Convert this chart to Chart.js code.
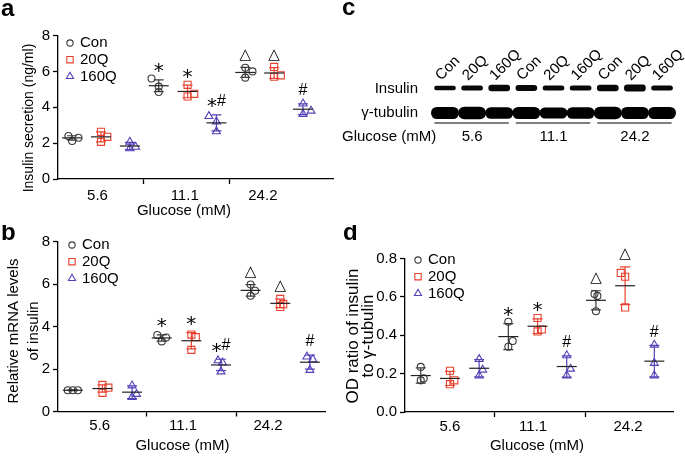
<!DOCTYPE html>
<html>
<head>
<meta charset="utf-8">
<script src="https://cdn.jsdelivr.net/npm/chart.js@4.4.1/dist/chart.umd.min.js"></script>
<style>
  html, body { margin: 0; padding: 0; background: #fff; }
  body { width: 685px; height: 456px; position: relative; overflow: hidden; }
  .panel { position: absolute; }
</style>
</head>
<body>
<div class="panel" style="left:0;top:0;width:340px;height:225px"><canvas id="chartA"></canvas></div>
<div class="panel" style="left:340px;top:0;width:345px;height:160px"><canvas id="chartC"></canvas></div>
<div class="panel" style="left:0;top:225px;width:340px;height:231px"><canvas id="chartB"></canvas></div>
<div class="panel" style="left:340px;top:225px;width:345px;height:231px"><canvas id="chartD"></canvas></div>
<script>
const glucose = ['5.6', '11.1', '24.2'];
const groupNames = ['Con', '20Q', '160Q'];

// a: insulin secretion (ng/ml), 3 replicates per glucose level
const secCon = [[2.4, 2.12, 2.3], [5.6, 5.15, 4.85], [6.2, 6.0, 5.65]];
const sec20Q = [[2.63, 2.07, 2.35], [5.25, 4.6, 4.75], [6.25, 5.7, 5.78]];
const sec160Q = [[2.07, 1.7, 1.79], [3.5, 3.2, 2.65], [4.2, 3.8, 3.62]];
const secMean = [[2.29, 5.2, 5.94], [2.35, 4.88, 5.91], [1.84, 3.13, 3.89]];
const secSd = [[0.12, 0.33, 0.28], [0.28, 0.35, 0.3], [0.2, 0.45, 0.3]];
const secJit = [
  [[-0.13, 0, 0.22], [-0.25, 0, 0], [0, 0.25, 0]],
  [[0, 0, 0.22], [0, 0, 0.23], [0, 0, 0.23]],
  [[0, 0, 0.2], [-0.26, 0, 0], [0, 0.28, 0]]
];
const secMarks = [['', '*', '△'], ['', '*', '△'], ['', '*#', '#']];

// b: relative mRNA levels of insulin
const mrnaCon = [[1.0, 1.0, 1.0], [3.6, 3.3, 3.48], [5.98, 5.68, 5.45]];
const mrna20Q = [[1.25, 0.88, 1.12], [3.62, 2.9, 3.5], [5.3, 5.05, 4.92]];
const mrna160Q = [[1.22, 0.68, 0.82], [2.4, 2.3, 1.88], [2.58, 2.45, 1.95]];
const mrnaMean = [[1.0, 3.46, 5.7], [1.08, 3.33, 5.09], [0.91, 2.19, 2.32]];
const mrnaSd = [[0.02, 0.15, 0.27], [0.17, 0.38, 0.2], [0.3, 0.27, 0.33]];
const mrnaJit = [
  [[-0.17, 0, 0.17], [-0.15, 0, 0.15], [0, 0.15, 0]],
  [[0, 0, 0.2], [0, 0, 0.15], [0, 0.1, 0]],
  [[0, 0, 0.15], [-0.1, 0.05, 0], [-0.1, 0.1, 0]]
];
const mrnaMarks = [['', '*', '△'], ['', '*', '△'], ['', '*#', '#']];

// d: OD ratio of insulin to gamma-tubulin
const odCon = [[0.235, 0.165, 0.175], [0.47, 0.37, 0.34], [0.615, 0.605, 0.525]];
const od20Q = [[0.215, 0.145, 0.165], [0.49, 0.42, 0.43], [0.725, 0.705, 0.545]];
const od160Q = [[0.275, 0.22, 0.19], [0.295, 0.225, 0.19], [0.35, 0.255, 0.19]];
const odMean = [[0.19, 0.393, 0.582], [0.175, 0.447, 0.658], [0.228, 0.237, 0.265]];
const odSd = [[0.04, 0.068, 0.05], [0.037, 0.038, 0.098], [0.045, 0.055, 0.082]];
const odJit = [
  [[0, 0, 0.1], [0, 0.15, 0], [-0.05, 0.05, 0]],
  [[0, 0, 0.15], [0, 0, 0.15], [-0.15, 0, 0]],
  [[0, 0.12, 0], [0, 0.13, 0], [0, 0, 0]]
];
const odMarks = [['', '*', '△'], ['', '*', '△'], ['', '#', '#']];

// c: western blot lanes, band thickness
const laneLabels = ['Con', '20Q', '160Q', 'Con', '20Q', '160Q', 'Con', '20Q', '160Q'];
const insulinBand = [4.5, 5, 6.5, 6, 5, 5, 6.5, 7, 5];
const tubulinBand = [11.5, 12, 11, 11.5, 10.5, 11, 12, 11.5, 11.5];

const FONT = '"Liberation Sans", Arial, sans-serif';
Chart.defaults.font.family = FONT;
Chart.defaults.color = '#000';
Chart.defaults.animation = false;

const markerStyles = ['circle', 'rect', 'triangle'];
const markerRadius = [3.5, 5, 4.6];
const seriesColors = ['#3a3a3a', '#e8412f', '#5242b8'];
const symFont = { '*': ['20px "DejaVu Sans"', 12], '#': ['16px ' + FONT, 5.7], '△': ['15px "DejaVu Sans"', 5.9] };

function drawMark(ctx, text, cx, cy) {
  const parts = [...text];
  const widths = parts.map((ch) => { ctx.font = symFont[ch][0]; return ctx.measureText(ch).width; });
  let x = cx - widths.reduce((a, b) => a + b, 0) / 2;
  ctx.fillStyle = '#000';
  ctx.textAlign = 'left';
  ctx.textBaseline = 'alphabetic';
  parts.forEach((ch, i) => {
    ctx.font = symFont[ch][0];
    ctx.fillText(ch, x, cy + symFont[ch][1]);
    x += widths[i];
  });
}

function textPlugin(items) {
  return {
    id: 'texts',
    afterDraw(chart) {
      const ctx = chart.ctx;
      items.forEach((it) => {
        ctx.save();
        ctx.translate(it.x, it.y);
        if (it.rot) ctx.rotate((it.rot * Math.PI) / 180);
        ctx.fillStyle = '#000';
        ctx.font = `${it.bold ? 'bold ' : ''}${it.size || 15}px ${FONT}`;
        ctx.textAlign = it.align || 'center';
        ctx.textBaseline = 'alphabetic';
        ctx.fillText(it.t, 0, 0);
        ctx.restore();
      });
    }
  };
}

function statsPlugin(p) {
  return {
    id: 'stats',
    afterDatasetsDraw(chart) {
      const { ctx, scales: { x, y } } = chart;
      ctx.save();
      p.mean.forEach((row, s) => row.forEach((m, g) => {
        const cx = x.getPixelForValue(g * 3 + s);
        const yt = y.getPixelForValue(m + p.sd[s][g]);
        const yb = y.getPixelForValue(m - p.sd[s][g]);
        const ym = y.getPixelForValue(m);
        ctx.lineWidth = 1.2;
        ctx.strokeStyle = seriesColors[s];
        ctx.beginPath();
        ctx.moveTo(cx, yt); ctx.lineTo(cx, yb);
        ctx.moveTo(cx - 5, yt); ctx.lineTo(cx + 5, yt);
        ctx.moveTo(cx - 5, yb); ctx.lineTo(cx + 5, yb);
        ctx.stroke();
        ctx.strokeStyle = '#222';
        ctx.beginPath();
        ctx.moveTo(cx - 10, ym); ctx.lineTo(cx + 10, ym);
        ctx.stroke();
        if (p.marks[s][g]) drawMark(ctx, p.marks[s][g], cx, yt - 14.5);
      }));
      // legend, top-left inside the plot
      const { left, top } = chart.chartArea;
      groupNames.forEach((name, s) => {
        const lx = left + p.legend[0];
        const ly = top + p.legend[1] + s * 16.7;
        ctx.strokeStyle = seriesColors[s];
        ctx.fillStyle = 'rgba(0,0,0,0)';
        ctx.lineWidth = 1.1;
        Chart.helpers.drawPoint(ctx, { pointStyle: markerStyles[s], radius: markerRadius[s] * 0.9, borderWidth: 1.1, rotation: 0 }, lx, ly);
        ctx.fillStyle = '#000';
        ctx.font = `15px ${FONT}`;
        ctx.textAlign = 'left';
        ctx.textBaseline = 'middle';
        ctx.fillText(name, lx + 10, ly);
      });
      ctx.restore();
    }
  };
}

function scatterPanel(id, p) {
  const datasets = groupNames.map((name, s) => ({
    label: name,
    data: p.vals[s].flatMap((reps, g) => reps.map((v, r) => ({ x: g * 3 + s + p.jit[s][g][r], y: v }))),
    pointStyle: markerStyles[s],
    pointRadius: markerRadius[s],
    pointBorderWidth: 1.1,
    borderColor: seriesColors[s],
    backgroundColor: 'rgba(255,255,255,0)',
    showLine: false
  }));
  const xTicks = [[p.xLab[0], glucose[0]], [p.xSep[0], ''], [p.xLab[1], glucose[1]], [p.xSep[1], ''], [p.xLab[2], glucose[2]]];
  return new Chart(document.getElementById(id), {
    type: 'scatter',
    data: { datasets },
    options: {
      responsive: true,
      maintainAspectRatio: false,
      devicePixelRatio: 1,
      layout: { padding: { top: p.area.top, right: p.area.right, left: 0, bottom: 0 } },
      plugins: { legend: { display: false }, tooltip: { enabled: false } },
      scales: {
        x: {
          type: 'linear',
          min: p.xMin,
          max: p.xMax,
          afterBuildTicks: (sc) => { sc.ticks = xTicks.map((t) => ({ value: t[0] })); },
          afterFit: (sc) => { sc.height = p.area.xh; },
          ticks: {
            autoSkip: false,
            maxRotation: 0,
            padding: p.xPad,
            font: { size: 15 },
            color: '#000',
            callback: (v) => (xTicks.find((t) => t[0] === v) || [0, ''])[1]
          },
          grid: {
            drawOnChartArea: false,
            tickLength: 5,
            tickWidth: 1.3,
            tickColor: (c) => (c.tick && c.tick.label === '' ? '#000' : 'rgba(0,0,0,0)')
          },
          border: { color: '#000', width: 1.3 }
        },
        y: {
          min: 0,
          max: p.yMax,
          afterFit: (sc) => { sc.width = p.area.left; },
          ticks: { stepSize: p.yStep, padding: 3, font: { size: 15 }, color: '#000', callback: p.yFmt },
          grid: { drawOnChartArea: false, tickLength: 5, tickWidth: 1.3, tickColor: '#000' },
          border: { color: '#000', width: 1.3 }
        }
      }
    },
    plugins: [statsPlugin(p), textPlugin(p.texts)]
  });
}

scatterPanel('chartA', {
  vals: [secCon, sec20Q, sec160Q], mean: secMean, sd: secSd, jit: secJit, marks: secMarks,
  yMax: 8, yStep: 2, yFmt: (v) => v,
  xMin: -0.49, xMax: 9.04, xLab: [0.88, 3.9, 6.61], xSep: [2.48, 5.46], xPad: 2.5,
  area: { top: 35.5, right: 7, left: 58, xh: 46 },
  legend: [12, 7.5],
  texts: [
    { t: 'a', x: 1, y: 16, size: 24, bold: true, align: 'left' },
    { t: 'Insulin secretion (ng/ml)', x: 32.5, y: 118, size: 14, rot: -90 },
    { t: 'Glucose (mM)', x: 184, y: 215 }
  ]
});

scatterPanel('chartB', {
  vals: [mrnaCon, mrna20Q, mrna160Q], mean: mrnaMean, sd: mrnaSd, jit: mrnaJit, marks: mrnaMarks,
  yMax: 8, yStep: 2, yFmt: (v) => v,
  xMin: -0.5, xMax: 8.51, xLab: [0.91, 3.72, 6.59], xSep: [2.5, 5.54], xPad: 0.5,
  area: { top: 16.5, right: 15, left: 58, xh: 44.5 },
  legend: [14, 3.5],
  texts: [
    { t: 'b', x: 1, y: 15, size: 24, bold: true, align: 'left' },
    { t: 'Relative mRNA levels', x: 18.3, y: 106, rot: -90 },
    { t: 'of insulin', x: 38.3, y: 106, rot: -90 },
    { t: 'Glucose (mM)', x: 182.5, y: 225 }
  ]
});

scatterPanel('chartD', {
  vals: [odCon, od20Q, od160Q], mean: odMean, sd: odSd, jit: odJit, marks: odMarks,
  yMax: 0.8, yStep: 0.2, yFmt: (v) => v.toFixed(1),
  xMin: -0.54, xMax: 8.64, xLab: [1.0, 3.85, 7.1], xSep: [2.54, 5.63], xPad: 1,
  area: { top: 33.5, right: 12, left: 65, xh: 44 },
  legend: [13, 1.5],
  texts: [
    { t: 'd', x: 3, y: 15, size: 24, bold: true, align: 'left' },
    { t: 'OD ratio of insulin', x: 17.5, y: 111, size: 17, rot: -90 },
    { t: 'to γ-tubulin', x: 32.5, y: 111, size: 17, rot: -90 },
    { t: 'Glucose (mM)', x: 197, y: 225 }
  ]
});

// c: blot drawn as floating bars on a lane (category) scale
const blotPlugin = {
  id: 'blot',
  beforeDatasetsDraw(chart) { chart.ctx.save(); chart.ctx.filter = 'blur(0.7px)'; },
  afterDatasetsDraw(chart) { chart.ctx.restore(); },
  afterDraw(chart) {
    const { ctx, scales: { x } } = chart;
    const half = (x.getPixelForValue(1) - x.getPixelForValue(0)) / 2;
    ctx.save();
    ctx.fillStyle = '#000';
    ctx.font = `15px ${FONT}`;
    ctx.textBaseline = 'alphabetic';
    laneLabels.forEach((lab, i) => {
      ctx.save();
      ctx.translate(x.getPixelForValue(i) - 4, 81);
      ctx.rotate(-Math.PI / 4);
      ctx.textAlign = 'left';
      ctx.fillText(lab, 0, 0);
      ctx.restore();
    });
    ctx.textAlign = 'right';
    ctx.fillText('Insulin', 78, 93);
    ctx.fillText('γ-tubulin', 78, 117);
    ctx.textAlign = 'left';
    ctx.fillText('Glucose (mM)', 2, 141);
    ctx.textAlign = 'center';
    ctx.strokeStyle = '#555';
    ctx.lineWidth = 1.5;
    glucose.forEach((g, k) => {
      ctx.fillText(g, x.getPixelForValue(k * 3 + 1), 141);
      ctx.beginPath();
      ctx.moveTo(x.getPixelForValue(k * 3) - half + 3, 123);
      ctx.lineTo(x.getPixelForValue(k * 3 + 2) + half - 4, 123);
      ctx.stroke();
    });
    ctx.restore();
  }
};

new Chart(document.getElementById('chartC'), {
  type: 'bar',
  data: {
    labels: laneLabels,
    datasets: [
      { label: 'Insulin', data: insulinBand.map((t) => [34 - t / 2, 34 + t / 2]), backgroundColor: '#080808', borderRadius: 3, borderSkipped: false, barPercentage: 0.8, categoryPercentage: 1, grouped: false, clip: false },
      { label: 'γ-tubulin', data: tubulinBand.map((t) => [9 - t / 2, 9 + t / 2]), backgroundColor: '#000', borderRadius: 6, borderSkipped: false, barPercentage: 1.0, categoryPercentage: 1, grouped: false, clip: false }
    ]
  },
  options: {
    responsive: true,
    maintainAspectRatio: false,
    devicePixelRatio: 1,
    layout: { padding: { left: 91.4, right: 9.4, top: 80, bottom: 38 } },
    plugins: { legend: { display: false }, tooltip: { enabled: false } },
    scales: {
      x: { display: false, offset: true },
      y: { display: false, min: 0, max: 42 }
    }
  },
  plugins: [blotPlugin, textPlugin([{ t: 'c', x: 2, y: 15, size: 24, bold: true, align: 'left' }])]
});
</script>
</body>
</html>
